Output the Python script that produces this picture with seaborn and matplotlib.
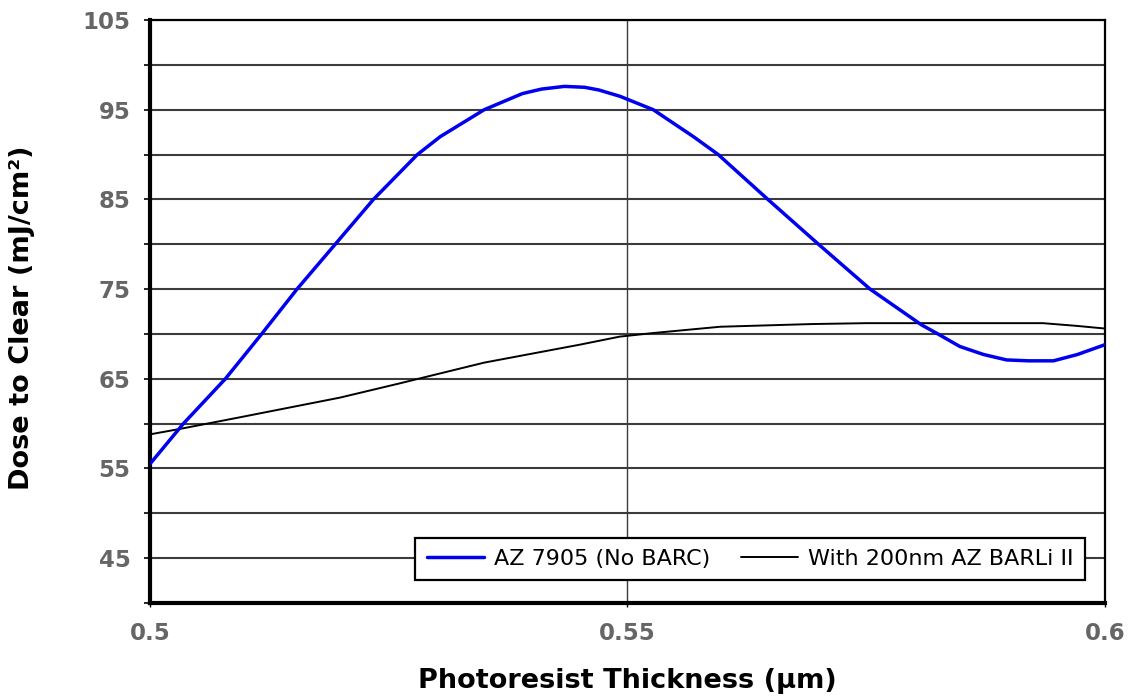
import numpy as np
import pandas as pd
import matplotlib
matplotlib.use("Agg")
import matplotlib.pyplot as plt
import seaborn as sns

# values
blue_x = [0.500, 0.5035, 0.5079, 0.5117, 0.5154, 0.5194, 0.5234, 0.528, 0.5304,
          0.535, 0.539, 0.541, 0.5434, 0.5455, 0.547, 0.5492, 0.5527, 0.5569,
          0.5595, 0.5647, 0.570, 0.5754, 0.5808, 0.5825, 0.5848, 0.5873,
          0.5897, 0.592, 0.5946, 0.5971, 0.600]
blue_y = [55.5, 60.0, 65.0, 70.0, 75.0, 80.0, 85.0, 90.0, 92.0,
          95.0, 96.8, 97.3, 97.6, 97.5, 97.2, 96.5, 95.0, 92.0,
          90.0, 85.0, 80.0, 75.0, 71.0, 70.0, 68.6, 67.7,
          67.1, 67.0, 67.0, 67.7, 68.8]
black_x = [0.500, 0.5031, 0.5094, 0.5199, 0.5262, 0.5304, 0.535, 0.540, 0.545,
           0.5492, 0.5527, 0.5597, 0.5693, 0.575, 0.580, 0.587, 0.5935,
           0.597, 0.600]
black_y = [58.8, 59.4, 60.7, 62.9, 64.5, 65.6, 66.8, 67.8, 68.8,
           69.7, 70.1, 70.8, 71.1, 71.2, 71.2, 71.2, 71.2,
           70.9, 70.6]

label_blue = "AZ 7905 (No BARC)"
label_black = "With 200nm AZ BARLi II"

x_ticks = [0.5, 0.55, 0.6]
x_tick_labels = ["0.5", "0.55", "0.6"]
y_major = [45, 55, 65, 75, 85, 95, 105]
y_minor = [40, 50, 60, 70, 80, 90, 100]

sns.set_style("white")
plt.rcParams["font.family"] = ["DejaVu Sans"]

fig = plt.figure(figsize=(11.31, 7), dpi=100)
ax = fig.add_axes([0.1326, 0.1386, 0.8444, 0.8328])

# grid: horizontal every 5, one vertical at 0.55
for v in y_major + y_minor:
    ax.axhline(v, color="#3c3c3c", lw=1.5, zorder=1)
ax.axvline(0.55, color="#3c3c3c", lw=1.0, zorder=1)

sns.lineplot(x=blue_x, y=blue_y, color="#0000ee", lw=2.5, label=label_blue,
             ax=ax, zorder=3, sort=False)
sns.lineplot(x=black_x, y=black_y, color="black", lw=1.4, label=label_black,
             ax=ax, zorder=2, sort=False)

ax.set_xlim(0.5, 0.6)
ax.set_ylim(40, 105)

ax.set_xticks(x_ticks)
ax.set_xticklabels(x_tick_labels)
ax.set_yticks(y_major)
ax.set_yticks(y_minor, minor=True)
ax.tick_params(axis="y", which="both", direction="out", length=4, width=1.2,
               color="black", left=True)
ax.tick_params(axis="y", which="major", pad=10)
ax.tick_params(axis="x", direction="out", length=3, width=1.0, color="black",
               bottom=True, pad=11)
for lab in ax.get_xticklabels() + ax.get_yticklabels():
    lab.set_fontsize(16.5)
    lab.set_fontweight("bold")
    lab.set_color("#666666")

for side in ["top", "right"]:
    ax.spines[side].set_color("black")
    ax.spines[side].set_linewidth(1.6)
for side in ["left", "bottom"]:
    ax.spines[side].set_color("black")
    ax.spines[side].set_linewidth(3.0)

ax.set_xlabel("Photoresist Thickness (\u00b5m)", fontsize=19.5, fontweight="bold",
              color="black")
ax.set_ylabel("Dose to Clear (mJ/cm\u00b2)", fontsize=19.5, fontweight="bold",
              color="black")
ax.xaxis.set_label_coords(0.5, -0.112)
ax.yaxis.set_label_coords(-0.12, 0.49)

leg = ax.legend(loc="lower right", bbox_to_anchor=(0.979, 0.039), ncol=2,
                frameon=True, fancybox=False, fontsize=16, handlelength=2.6,
                columnspacing=1.35, borderpad=0.5, handletextpad=0.45,
                borderaxespad=0)
leg.get_frame().set_edgecolor("black")
leg.get_frame().set_linewidth(1.6)
leg.get_frame().set_alpha(1)
for t in leg.get_texts():
    t.set_color("black")

fig.savefig("out.png", dpi=100, facecolor="white")
